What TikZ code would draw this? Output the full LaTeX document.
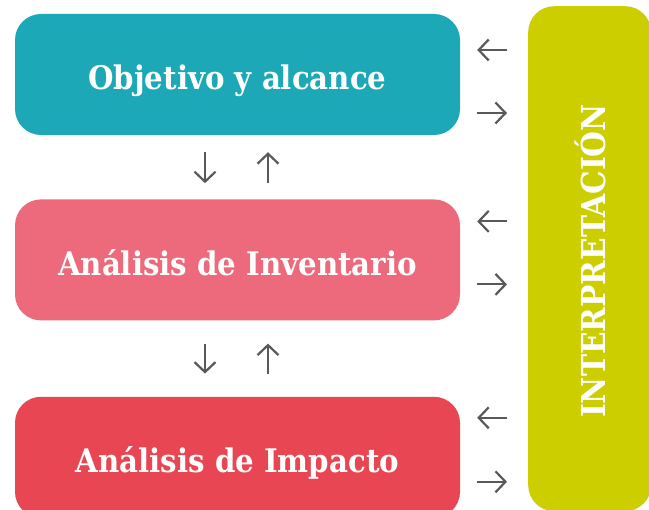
\documentclass[tikz,border=0pt]{standalone}
\usepackage{fontspec}
\setmainfont{DejaVu Serif Condensed}
\usetikzlibrary{positioning,arrows.meta}
\definecolor{tealbox}{HTML}{1DA8B8}
\definecolor{pinkbox}{HTML}{EC6A7B}
\definecolor{redbox}{HTML}{E84653}
\definecolor{limebox}{HTML}{CCCE00}
\definecolor{arrgray}{HTML}{595959}
\begin{document}
\begin{tikzpicture}[x=1pt, y=-1pt, node distance=64pt,
  stage/.style={fill=#1, rounded corners=26pt, minimum width=445pt, minimum height=121pt,
    inner sep=0pt, text=white, text height=31pt, text depth=0pt,
    font=\bfseries\fontsize{32.5}{38}\selectfont},
  arr/.style={-{Straight Barb[length=10pt,width=21pt]}, draw=arrgray, line width=2.2pt}]
\useasboundingbox (0,0) rectangle (649,510);
\node[stage=tealbox] (obj) at (237.5,74.5) {Objetivo y alcance};
\node[stage=pinkbox, below=of obj] (inv) {Análisis de Inventario};
\node[stage=redbox, below=76pt of inv] (imp) {Análisis de Impacto};
\node[fill=limebox, rounded corners=26pt, minimum width=123pt, minimum height=505pt,
  inner sep=0pt, anchor=north west] (interp) at (528,6) {};
\node[rotate=90, text=white, text height=24pt, text depth=0pt,
  font=\bfseries\fontsize{33}{38}\selectfont] (interptxt)
  at (593.5,261) {INTERPRETACIÓN};
% flechas hacia y desde la interpretacion
\coordinate (o1) at ([yshift=24.5pt]obj.east);
\coordinate (o2) at ([yshift=-38.5pt]obj.east);
\coordinate (i1) at ([yshift=38.5pt]inv.east);
\coordinate (i2) at ([yshift=-24.5pt]inv.east);
\coordinate (m1) at ([yshift=39.5pt]imp.east);
\coordinate (m2) at ([yshift=-24.5pt]imp.east);
\draw[arr, shorten <=21pt, shorten >=17pt] (interp.west |- o1) -- (o1);
\draw[arr, shorten <=17pt, shorten >=21pt] (o2) -- (interp.west |- o2);
\draw[arr, shorten <=21pt, shorten >=17pt] (interp.west |- i1) -- (i1);
\draw[arr, shorten <=17pt, shorten >=21pt] (i2) -- (interp.west |- i2);
\draw[arr, shorten <=21pt, shorten >=17pt] (interp.west |- m1) -- (m1);
\draw[arr, shorten <=17pt, shorten >=21pt] (m2) -- (interp.west |- m2);
% flechas entre etapas
\draw[arr, shorten <=17pt, shorten >=16pt] ([xshift=-32.5pt]obj.south) -- ([xshift=-32.5pt]inv.north);
\draw[arr, shorten <=16pt, shorten >=17pt] ([xshift=30.5pt]inv.north) -- ([xshift=30.5pt]obj.south);
\draw[arr, shorten <=23pt, shorten >=23pt] ([xshift=-32.5pt]inv.south) -- ([xshift=-32.5pt]imp.north);
\draw[arr, shorten <=23pt, shorten >=23pt] ([xshift=30.5pt]imp.north) -- ([xshift=30.5pt]inv.south);
\end{tikzpicture}
\end{document}
